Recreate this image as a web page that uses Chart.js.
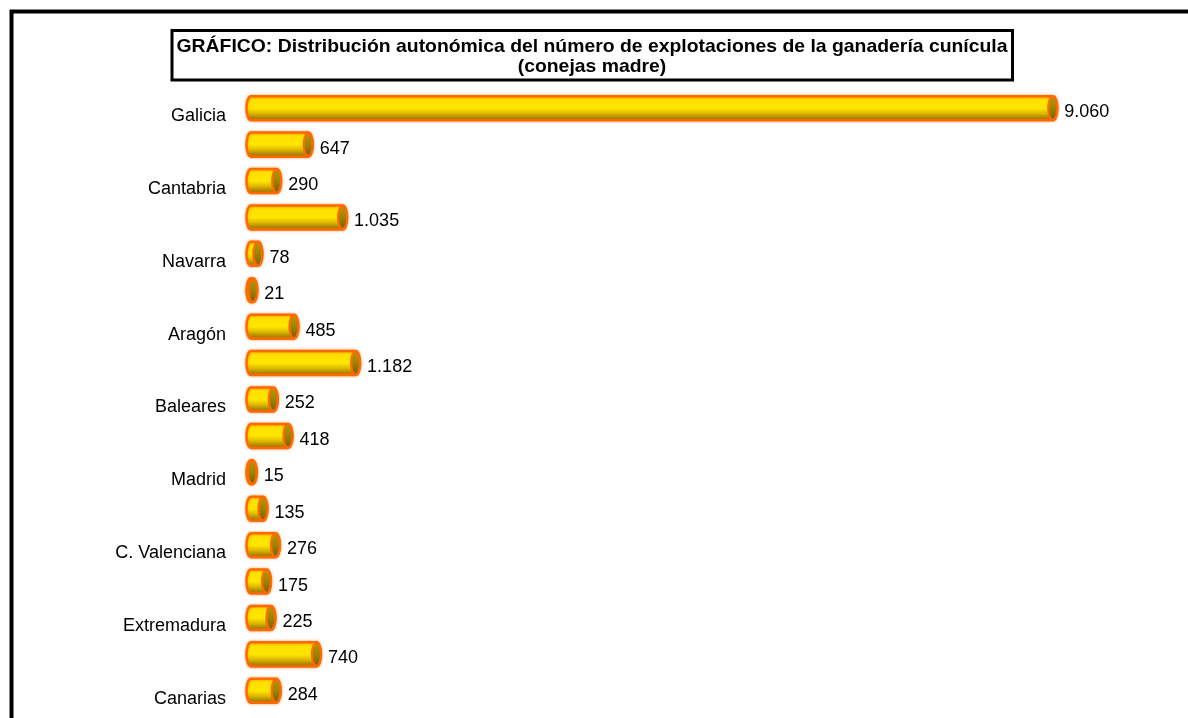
<!DOCTYPE html>
<html>
<head>
<meta charset="utf-8">
<script src="https://cdn.jsdelivr.net/npm/chart.js@4.4.1/dist/chart.umd.min.js"></script>
<style>
  html, body { margin: 0; padding: 0; background: #ffffff; }
  #wrap { width: 1188px; height: 718px; position: relative; }
</style>
</head>
<body>
<div id="wrap"><canvas id="c" width="1188" height="718"></canvas></div>
<script>
const categories = ['Galicia', 'P. de Asturias', 'Cantabria', 'País Vasco', 'Navarra', 'La Rioja', 'Aragón', 'Cataluña', 'Baleares', 'Castilla y León', 'Madrid', 'Castilla-La Mancha', 'C. Valenciana', 'R. de Murcia', 'Extremadura', 'Andalucía', 'Canarias'];
const values = [9060, 647, 290, 1035, 78, 21, 485, 1182, 252, 418, 15, 135, 276, 175, 225, 740, 284];
const titleLines = ['GRÁFICO: Distribución autonómica del número de explotaciones de la ganadería cunícula', '(conejas madre)'];

function fmt(v) {
  return String(v).replace(/\B(?=(\d{3})+(?!\d))/g, '.');
}

const framePlugin = {
  id: 'frame',
  afterDraw(chart) {
    const ctx = chart.ctx;
    ctx.save();
    ctx.strokeStyle = '#000';
    ctx.lineWidth = 4;
    ctx.strokeRect(11.5, 11.5, 1400, 1000);
    ctx.lineWidth = 3;
    ctx.strokeRect(172, 30.5, 840.5, 49.5);
    ctx.fillStyle = '#000';
    ctx.font = 'bold 18.5px "Liberation Sans", Arial, sans-serif';
    ctx.textAlign = 'center';
    ctx.textBaseline = 'middle';
    const w = ctx.measureText(titleLines[0]).width;
    const sx = 831 / w;
    ctx.translate(592, 0);
    ctx.scale(sx, 1);
    ctx.fillText(titleLines[0], 0, 47);
    ctx.fillText(titleLines[1], 0, 67);
    ctx.restore();
  }
};

const cylinderPlugin = {
  id: 'cylinders',
  afterDatasetsDraw(chart) {
    const ctx = chart.ctx;
    const meta = chart.getDatasetMeta(0);
    meta.data.forEach((bar, i) => {
      const p = bar.getProps(['x', 'y', 'base', 'height'], true);
      const x = p.x, base = p.base, cy = p.y, h = p.height;
      const ry = h / 2, rx = 4.5;
      const top = cy - ry, bot = cy + ry;
      ctx.save();
      const g = ctx.createLinearGradient(0, top, 0, bot);
      g.addColorStop(0, '#F0C000');
      g.addColorStop(0.12, '#FFE000');
      g.addColorStop(0.5, '#FFE600');
      g.addColorStop(0.72, '#DDB700');
      g.addColorStop(1, '#8A6C00');
      ctx.beginPath();
      ctx.moveTo(base, top);
      ctx.lineTo(x, top);
      ctx.ellipse(x, cy, rx, ry, 0, -Math.PI / 2, Math.PI / 2, false);
      ctx.lineTo(base, bot);
      ctx.ellipse(base, cy, rx, ry, 0, Math.PI / 2, Math.PI * 1.5, false);
      ctx.closePath();
      ctx.fillStyle = g;
      ctx.shadowColor = 'rgba(255,110,0,0.55)';
      ctx.shadowBlur = 3;
      ctx.fill();
      ctx.lineWidth = 2.5;
      ctx.strokeStyle = '#FF6A00';
      ctx.stroke();
      ctx.shadowBlur = 0;
      const cg = ctx.createLinearGradient(0, top, 0, bot);
      cg.addColorStop(0, '#B29800');
      cg.addColorStop(0.5, '#9E8400');
      cg.addColorStop(1, '#735C00');
      ctx.beginPath();
      ctx.ellipse(x, cy, rx, ry - 0.5, 0, 0, Math.PI * 2);
      ctx.fillStyle = cg;
      ctx.fill();
      ctx.lineWidth = 2.2;
      ctx.strokeStyle = '#FF6A00';
      ctx.stroke();
      ctx.fillStyle = '#000';
      ctx.font = '18px "Liberation Sans", Arial, sans-serif';
      ctx.textAlign = 'left';
      ctx.textBaseline = 'middle';
      ctx.fillText(fmt(values[i]), x + rx + 7, cy + 4);
      ctx.restore();
    });
  }
};

new Chart(document.getElementById('c'), {
  type: 'bar',
  data: {
    labels: categories,
    datasets: [{
      data: values,
      backgroundColor: 'rgba(0,0,0,0)',
      borderWidth: 0,
      barPercentage: 0.66,
      categoryPercentage: 1
    }]
  },
  options: {
    indexAxis: 'y',
    responsive: false,
    animation: false,
    layout: { padding: { top: 90, bottom: 9, left: 0, right: 52 } },
    plugins: { legend: { display: false }, tooltip: { enabled: false }, title: { display: false } },
    scales: {
      x: { display: false, min: 0, max: 10000 },
      y: {
        grid: { display: false, drawTicks: false },
        border: { display: false },
        ticks: {
          autoSkip: false,
          padding: 25,
          labelOffset: 8,
          color: '#000',
          font: { family: '"Liberation Sans", Arial, sans-serif', size: 18 },
          callback: function (val, i) { return i % 2 === 0 ? categories[i] : ''; }
        },
        afterFit: function (scale) {
          scale.width = 251;
          scale.paddingTop = 0;
          scale.paddingBottom = 0;
        }
      }
    }
  },
  plugins: [framePlugin, cylinderPlugin]
});
</script>
</body>
</html>
